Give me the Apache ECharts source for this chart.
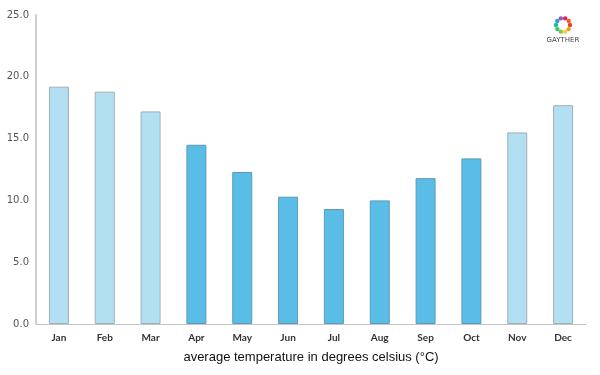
<!DOCTYPE html>
<html>
<head>
<meta charset="utf-8">
<script src="https://cdn.jsdelivr.net/npm/echarts@6/dist/echarts.min.js"></script>
<style>
  html, body { margin: 0; padding: 0; background: #fff; }
  #main { width: 600px; height: 375px; }
</style>
</head>
<body>
<div id="main"></div>
<script>
var months = ['Jan', 'Feb', 'Mar', 'Apr', 'May', 'Jun', 'Jul', 'Aug', 'Sep', 'Oct', 'Nov', 'Dec'];
var temps = [19.2, 18.8, 17.2, 14.5, 12.3, 10.3, 9.3, 10.0, 11.8, 13.4, 15.5, 17.7];
// months drawn in the darker blue
var warm = ['Apr', 'May', 'Jun', 'Jul', 'Aug', 'Sep', 'Oct'];
var logoColors = ['#e8412c', '#f39c12', '#f4d03f', '#8bc34a', '#2ecc71', '#1abc9c', '#3498db', '#9b59b6', '#e91e63', '#ff5722'];

var chart = echarts.init(document.getElementById('main'));

var barData = months.map(function (m, i) {
    var dark = warm.indexOf(m) >= 0;
    return {
        value: temps[i],
        itemStyle: {
            color: dark ? '#59bde7' : '#b2dff1',
            borderColor: dark ? '#5e9ab4' : '#9fb0b6',
            borderWidth: 1
        }
    };
});

// little ring logo, top right
var logo = [];
for (var k = 0; k < logoColors.length; k++) {
    var a = k / logoColors.length * Math.PI * 2;
    logo.push({
        type: 'circle',
        shape: { cx: 563 + Math.cos(a) * 7, cy: 25 + Math.sin(a) * 7, r: 2.2 },
        style: { fill: logoColors[k] }
    });
}
logo.push({
    type: 'text',
    x: 563, y: 37,
    style: { text: 'GAYTHER', fill: '#444', font: '7px "DejaVu Sans"', align: 'center' }
});

var option = {
    animation: false,
    grid: { left: 36, right: 14, top: 15, bottom: 51, containLabel: false },
    xAxis: {
        type: 'category',
        data: months,
        axisLine: { lineStyle: { color: '#c4c4c4', width: 1 } },
        axisTick: { show: false },
        axisLabel: { color: '#333', fontSize: 10, fontWeight: 'bold', fontFamily: 'Lato', margin: 9 },
        name: 'average temperature in degrees celsius (°C)',
        nameLocation: 'middle',
        nameGap: 27,
        nameTextStyle: { color: '#111', fontSize: 13, fontFamily: 'Liberation Sans' }
    },
    yAxis: {
        type: 'value',
        min: 0, max: 25, interval: 5,
        axisLine: { show: true, lineStyle: { color: '#cfcfcf', width: 2 } },
        axisTick: { show: false },
        splitLine: { show: false },
        axisLabel: {
            color: '#555', fontSize: 10, fontFamily: 'DejaVu Sans', margin: 7,
            formatter: function (v) { return v.toFixed(1); }
        }
    },
    series: [{
        type: 'bar',
        data: barData,
        barWidth: 20
    }],
    graphic: logo
};

chart.setOption(option);
</script>
</body>
</html>
